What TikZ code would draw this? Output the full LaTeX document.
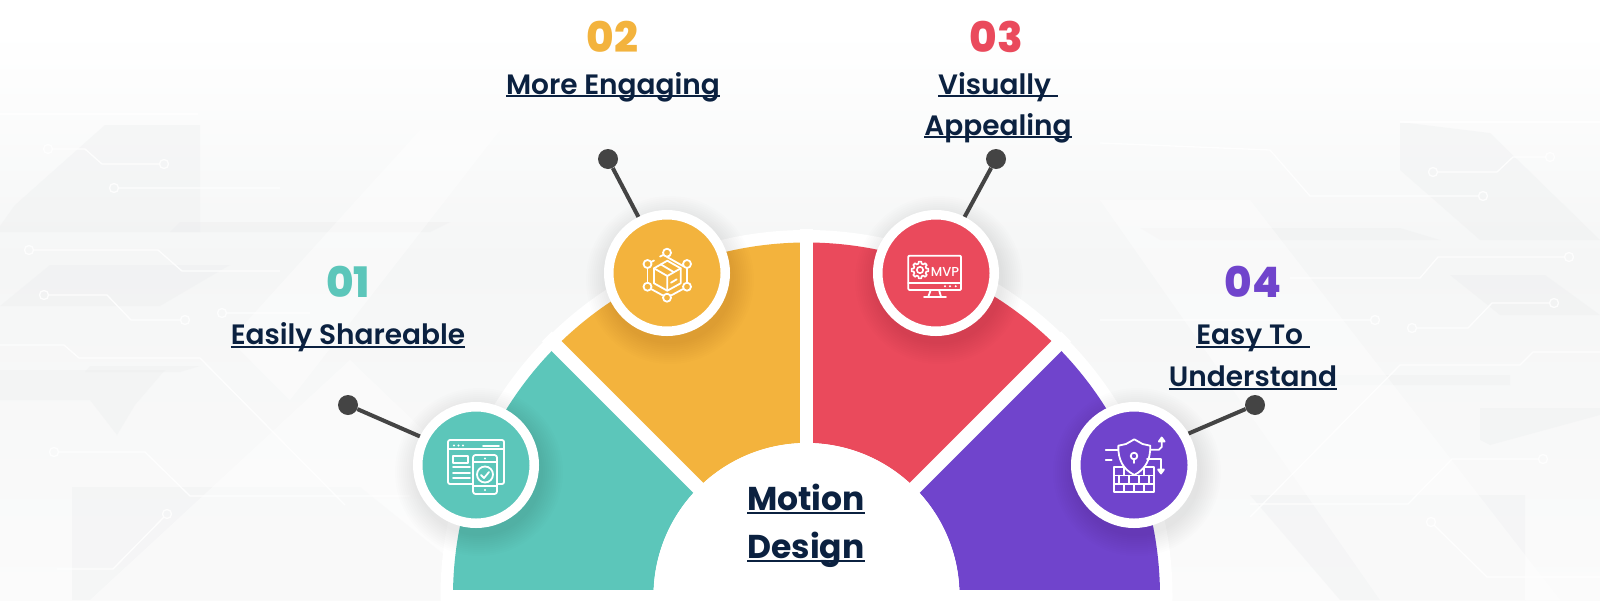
\documentclass[tikz,border=0pt]{standalone}
\usepackage{fontspec}
\setmainfont{Poppins}[BoldFont=Poppins SemiBold]
\newfontfamily\numfont{Poppins ExtraBold}
\newfontfamily\headfont{Poppins}[UprightFont=* Bold]
\newfontfamily\iconfont{Poppins}[UprightFont=* Medium]
\definecolor{cteal}{HTML}{5CC6BA}
\definecolor{corange}{HTML}{F3B33D}
\definecolor{cred}{HTML}{EA4A5C}
\definecolor{cpurple}{HTML}{7044CC}
\definecolor{cnavy}{HTML}{0B2140}
\definecolor{cpin}{HTML}{444444}
\definecolor{cbg}{HTML}{F5F6F6}
\definecolor{cbgb}{HTML}{FBFBFB}
\definecolor{cpoly}{HTML}{E9EBEC}
\newlength\ulw
\newcommand\ulx[2]{\setbox0\hbox{#1}\ulw=\wd0\rlap{\copy0}\rule[-#2]{\ulw}{1.6pt}}
\tikzset{
  hub/.style={circle,fill=#1,draw=white,line width=9.5pt,minimum size=116.5pt,inner sep=0pt},
  pin/.style={circle,fill=cpin,minimum size=20pt,inner sep=0pt},
  wire/.style={draw=cpin,line width=4pt},
  numlabel/.style={anchor=base,font=\numfont\fontsize{42}{42}\selectfont,inner sep=0pt},
  itemlabel/.style={anchor=base,text=cnavy,font=\bfseries\fontsize{28}{30}\selectfont,inner sep=0pt},
  headlabel/.style={anchor=base,text=cnavy,font=\headfont\fontsize{33}{36}\selectfont,inner sep=0pt},
  icon/.style={draw=white,line width=1.8pt,line join=round,line cap=round},
  trace/.style={draw=white,line width=1.3pt,opacity=.85},
  plate/.style={fill=cpoly,opacity=.28},
  glow/.style={fill=white,opacity=.4}
}
\begin{document}
\begin{tikzpicture}[x=1pt,y=-1pt]
\useasboundingbox (0,0) rectangle (1600,600);
% background
\fill[white] (0,0) rectangle (1600,600);
\shade[top color=white,bottom color=cbg] (0,30) rectangle (1600,260);
\shade[top color=cbg,bottom color=cbgb] (0,260) rectangle (1600,600);
\fill[plate] (0,226) -- (15,205) -- (105,125) -- (200,125) -- (200,232) -- (0,232) -- cycle;
\fill[plate] (0,306) -- (50,265) -- (230,265) -- (160,306) -- cycle;
\fill[plate] (0,400) -- (90,400) -- (117,435) -- (135,405) -- (165,370) -- (85,370) -- (0,370) -- cycle;
\fill[plate] (180,222) -- (450,222) -- (430,232) -- (170,232) -- cycle;
\fill[plate] (72,487) -- (360,487) -- (500,600) -- (72,600) -- cycle;
\fill[plate] (90,366) -- (200,366) -- (180,372) -- (85,372) -- cycle;
\fill[plate] (1400,122) -- (1490,133) -- (1600,240) -- (1480,240) -- (1400,170) -- cycle;
\fill[plate] (1450,275) -- (1545,275) -- (1600,315) -- (1500,315) -- cycle;
\fill[plate] (1480,408) -- (1600,408) -- (1600,415) -- (1490,445) -- (1480,440) -- cycle;
\fill[plate] (1140,228) -- (1400,228) -- (1440,240) -- (1160,240) -- cycle;
\fill[plate] (1250,495) -- (1525,495) -- (1525,600) -- (1340,600) -- cycle;
\fill[plate] (1300,375) -- (1510,375) -- (1510,385) -- (1320,385) -- cycle;
\fill[glow] (90,600) -- (350,360) -- (600,600) -- cycle;
\fill[glow] (230,340) -- (420,130) -- (500,130) -- (290,400) -- cycle;
\fill[glow] (1100,200) -- (1250,200) -- (1560,600) -- (1380,600) -- cycle;
% circuit traces
\draw[trace] (0,114) -- (198,114);
\draw[trace] (48,149) circle[radius=4.5] (52,149) -- (85,149) -- (102,164) -- (160,164) (164,164) circle[radius=4.5];
\draw[trace] (114,188) circle[radius=4.5] (118,188) -- (280,188);
\draw[trace] (29,250) circle[radius=4.5] (33,250) -- (158,250) -- (182,271) -- (280,271);
\draw[trace] (44,295) circle[radius=4.5] (48,295) -- (107,295) -- (131,320) -- (181,320) (185,320) circle[radius=4.5];
\draw[trace] (222,313) circle[radius=4.5] (226,313) -- (310,313);
\draw[trace] (0,345) -- (64,345) -- (79,358) -- (200,358) -- (345,505);
\draw[trace] (54,452) circle[radius=4.5] (58,452) -- (145,452) -- (190,496) -- (410,496);
\draw[trace] (167,514) circle[radius=4.5] (164,517) -- (113,569) -- (57,569);
\draw[trace] (1400,122) -- (1600,122);
\draw[trace] (1550,157) circle[radius=4.5] (1546,157) -- (1513,157) -- (1497,172) -- (1437,172) (1433,172) circle[radius=4.5];
\draw[trace] (1483,196) circle[radius=4.5] (1479,196) -- (1310,196) -- (1270,150) -- (1100,143);
\draw[trace] (1569,257) circle[radius=4.5] (1565,257) -- (1438,257) -- (1420,278) -- (1290,278);
\draw[trace] (1554,303) circle[radius=4.5] (1550,303) -- (1492,303) -- (1468,328) -- (1416,328) (1412,328) circle[radius=4.5];
\draw[trace] (1100,320) -- (1371,320) (1375,320) circle[radius=4.5];
\draw[trace] (1600,352) -- (1533,352) -- (1520,365) -- (1400,365) -- (1250,517);
\draw[trace] (1543,459) circle[radius=4.5] (1539,459) -- (1452,459) -- (1408,504) -- (1250,504);
\draw[trace] (1431,522) circle[radius=4.5] (1434,525) -- (1487,577) -- (1600,577);
% semicircle
\begin{scope}[shift={(806.5,596)},x=1pt,y=1pt]
  \begin{scope}
    \clip (-400,-4) rectangle (400,400);
    \fill[white] (0,0) circle[radius=366];
  \end{scope}
  \begin{scope}
    \clip (-400,7) rectangle (400,400);
    \fill[cteal] (180:153) arc(180:135:153) -- (135:353.5) arc(135:180:353.5) -- cycle;
    \fill[corange] (135:153) arc(135:90:153) -- (90:353.5) arc(90:135:353.5) -- cycle;
    \fill[cred] (90:153) arc(90:45:153) -- (45:353.5) arc(45:90:353.5) -- cycle;
    \fill[cpurple] (45:153) arc(45:0:153) -- (0:353.5) arc(0:45:353.5) -- cycle;
  \end{scope}
  \draw[white,line width=13pt] (0,0) -- (90:367);
  \draw[white,line width=14pt] (0,0) -- (135:367);
  \draw[white,line width=14pt] (0,0) -- (45:367);
  \begin{scope}
    \clip (-400,-4) rectangle (400,400);
    \fill[white] (0,0) circle[radius=153];
  \end{scope}
\end{scope}
% hub shadows
\foreach \hx/\hy in {476/465,667/273,936/273,1134/465}{
  \foreach \r in {64,66,...,84}{
    \fill[black,opacity=.006] (\hx+3,\hy+7) circle[radius=\r];
  }
}
% hubs, pins, connectors
\node[hub=cteal] (hub1) at (476,465) {};
\node[hub=corange] (hub2) at (667,273) {};
\node[hub=cred] (hub3) at (936,273) {};
\node[hub=cpurple] (hub4) at (1134,465) {};
\node[pin] (pin1) at (348,405) {};
\node[pin] (pin2) at (608,159) {};
\node[pin] (pin3) at (996,159) {};
\node[pin] (pin4) at (1255,405) {};
\draw[wire] (pin1) -- (hub1.153);
\draw[wire] (pin2) -- (hub2.117);
\draw[wire] (pin3) -- (hub3.63);
\draw[wire] (pin4) -- (hub4.30);
% labels
\node[numlabel,text=cteal] (n1) at (348,297) {01};
\node[numlabel,text=corange] (n2) at (612.5,52.5) {02};
\node[numlabel,text=cred] (n3) at (996.5,52.5) {03};
\node[numlabel,text=cpurple] (n4) at (1253,297) {04};
\node[itemlabel] (t1) at (348,344.5) {\ulx{Easily Shareable}{3pt}};
\node[itemlabel] (t2) at (613,94) {\ulx{More Engaging}{3pt}};
\node[itemlabel] (t3a) at (998,94) {\ulx{Visually }{3pt}};
\node[itemlabel] (t3b) at (998,135) {\ulx{Appealing}{3pt}};
\node[itemlabel] (t4a) at (1253,344.5) {\ulx{Easy To }{3pt}};
\node[itemlabel] (t4b) at (1253,386.5) {\ulx{Understand}{3pt}};
\node[headlabel] (c1) at (806,510) {\ulx{Motion}{3.5pt}};
\node[headlabel] (c2) at (806,558) {\ulx{Design}{3.5pt}};
% icon 1: window and phone
\draw[icon,rounded corners=2pt] (448,484) -- (448,440) -- (504,440) -- (504,484) -- cycle;
\draw[icon] (448,449) -- (504,449) (483,446) -- (499,446);
\foreach \dx in {454,458.5,463}{\fill[white] (\dx,445.5) circle[radius=1.1];}
\draw[icon] (453,456) rectangle (468,463);
\draw[icon] (453,467) -- (470,467) (453,473) -- (470,473) (453,478) -- (470,478);
\draw[icon,fill=cteal,rounded corners=2.5pt] (473,455) rectangle (497,494);
\draw[icon] (473,462) -- (497,462) (473,486) -- (497,486);
\fill[white] (485,458.5) circle[radius=1.1] (485,490) circle[radius=1.1];
\draw[icon] (485,474.5) circle[radius=8];
\draw[icon] (481,475) -- (484,478) -- (489,472);
% icon 2: box in hexagon
\draw[icon] (667,257) -- (683,266);
\draw[icon] (687,268) -- (687,283);
\draw[icon] (683,289) -- (671,295.5);
\draw[icon] (663,295.5) -- (651,289);
\draw[icon] (647.5,283) -- (647.5,268);
\draw[icon] (651,262) -- (654,260.5) (660,256.5) -- (663,255);
\foreach \px/\py in {667/252.7,687/264,687/286.7,667/297.7,647.5/286.7,647.5/264}{
  \draw[icon] (\px,\py) circle[radius=4];
}
\draw[icon] (667.3,260.7) -- (680.7,268.3) -- (680.7,283.3) -- (667.3,290.7) -- (654,283.3) -- (654,268.3) -- cycle;
\draw[icon] (654,268.3) -- (667.3,276) -- (680.7,268.3) (667.3,276) -- (667.3,290.7);
\draw[icon] (660.7,264.3) -- (674,272.3) (671,282.7) -- (676.7,279.3);
% icon 3: monitor
\draw[icon,rounded corners=1pt] (908.3,255.7) rectangle (961,290);
\draw[icon] (908.3,282.7) -- (961,282.7);
\foreach \dx in {945,950,955.7}{\fill[white] (\dx,286.3) circle[radius=1.1];}
\draw[icon] (930.7,290) -- (928.3,296.7) (939,290) -- (941,296.7) (924,297) -- (946,297);
\begin{scope}[shift={(920,270)}]
  \foreach \a in {0,45,...,315}{
    \draw[icon,line width=1.6pt] (\a-14:6.5) -- (\a-9:8.5) -- (\a+9:8.5) -- (\a+14:6.5) -- (\a+31:6.5);
  }
  \draw[icon,line width=1.6pt] (0,0) circle[radius=3.2];
\end{scope}
\node[text=white,font=\iconfont\fontsize{13}{13}\selectfont,inner sep=0pt,anchor=base] (mvp) at (945,276.5) {MVP};
% icon 4: shield and wall
\draw[icon] (1114,467) rectangle (1154,492);
\draw[icon] (1114,475.5) -- (1154,475.5) (1114,484) -- (1154,484);
\draw[icon] (1124,467) -- (1124,475.5) (1144,467) -- (1144,475.5);
\draw[icon] (1124,484) -- (1124,492) (1134,484) -- (1134,492) (1144,484) -- (1144,492);
\draw[icon] (1119,475.5) -- (1119,484) (1129,475.5) -- (1129,484) (1139,475.5) -- (1139,484) (1149,475.5) -- (1149,484);
\draw[icon,fill=cpurple] (1134.3,439.3) -- (1126,444) -- (1118.3,445.7) .. controls (1118,460) and (1123,469) .. (1134.3,475) .. controls (1145.5,469) and (1150.5,460) .. (1150.3,445.7) -- (1142.5,444) -- cycle;
\draw[icon] (1134,456) circle[radius=3.3] (1134,459.3) -- (1134,463);
\draw[icon] (1105.7,449.7) -- (1118.3,449.7) (1105.7,460.3) -- (1111.7,460.3);
\draw[icon] (1150.3,449.7) -- (1159,449.7) -- (1161.7,447) -- (1161.7,440);
\draw[icon,fill=white] (1158.8,441.5) -- (1161.7,437.5) -- (1164.6,441.5) -- cycle;
\draw[icon] (1147,459.3) -- (1161,459.3) -- (1161,470);
\draw[icon,fill=white] (1158.1,469.5) -- (1161,473.5) -- (1163.9,469.5) -- cycle;
\end{tikzpicture}
\end{document}
